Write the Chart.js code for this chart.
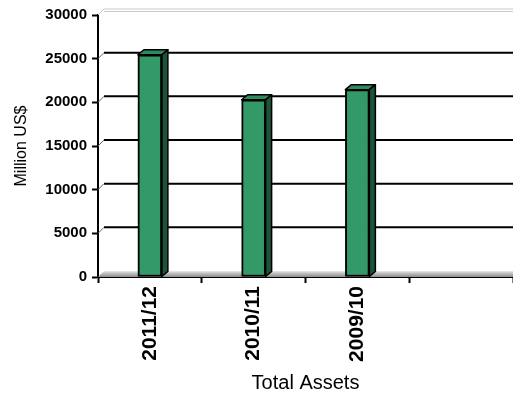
<!DOCTYPE html>
<html>
<head>
<meta charset="utf-8">
<title>Total Assets</title>
<script src="https://cdn.jsdelivr.net/npm/chart.js@4/dist/chart.umd.min.js"></script>
<style>
  html, body { margin: 0; padding: 0; background: #fff; }
  #wrap { width: 513px; height: 398px; }
</style>
</head>
<body>
<div id="wrap"><canvas id="assetsChart"></canvas></div>
<script>
// fiscal years, last slot left empty
const periods = ['2011/12', '2010/11', '2009/10', ''];
const totalAssets = [25450, 20300, 21450, null];
const yTicks = [0, 5000, 10000, 15000, 20000, 25000, 30000];

const FONT = '"Liberation Sans", Arial, sans-serif';
// depth of the walls and of the columns
const WALL_DX = 6, WALL_DY = 6;
const BAR_DX = 6, BAR_DY = 5;

const walls = {
  id: 'walls',
  beforeDatasetsDraw(chart) {
    const { ctx, chartArea: a, scales: { y } } = chart;
    const base = y.getPixelForValue(0);
    ctx.save();

    // floor
    const grad = ctx.createLinearGradient(0, base - WALL_DY, 0, base);
    grad.addColorStop(0, '#ececec');
    grad.addColorStop(0.35, '#c4c4c4');
    grad.addColorStop(1, '#8c8c8c');
    ctx.fillStyle = grad;
    ctx.beginPath();
    ctx.moveTo(a.left, base);
    ctx.lineTo(a.left + WALL_DX, base - WALL_DY);
    ctx.lineTo(a.right, base - WALL_DY);
    ctx.lineTo(a.right, base);
    ctx.closePath();
    ctx.fill();

    // top edge of the back wall
    const top = y.getPixelForValue(yTicks[yTicks.length - 1]);
    ctx.strokeStyle = '#c8c8c8';
    ctx.lineWidth = 1;
    ctx.beginPath();
    ctx.moveTo(a.left, top);
    ctx.lineTo(a.left + WALL_DX, top - WALL_DY);
    ctx.lineTo(a.right, top - WALL_DY);
    ctx.moveTo(a.left + WALL_DX, top - WALL_DY + 2.5);
    ctx.lineTo(a.right, top - WALL_DY + 2.5);
    ctx.stroke();

    // gridlines on the back wall
    yTicks.slice(1, -1).forEach(v => {
      const py = y.getPixelForValue(v);
      ctx.strokeStyle = '#666';
      ctx.lineWidth = 1;
      ctx.beginPath();
      ctx.moveTo(a.left, py);
      ctx.lineTo(a.left + WALL_DX, py - WALL_DY);
      ctx.stroke();
      ctx.strokeStyle = '#000';
      ctx.lineWidth = 2;
      ctx.beginPath();
      ctx.moveTo(a.left + WALL_DX, py - WALL_DY);
      ctx.lineTo(a.right, py - WALL_DY);
      ctx.stroke();
    });
    ctx.restore();
  },
  afterDatasetsDraw(chart) {
    const { ctx } = chart;
    ctx.save();
    ctx.strokeStyle = '#000';
    ctx.lineWidth = 1.5;
    ctx.lineJoin = 'round';
    chart.getDatasetMeta(0).data.forEach((bar, i) => {
      if (totalAssets[i] == null) return;
      const { x, y, width, base } = bar.getProps(['x', 'y', 'width', 'base'], true);
      const l = x - width / 2, r = x + width / 2;
      // top face
      ctx.fillStyle = '#2e8a5b';
      ctx.beginPath();
      ctx.moveTo(l, y);
      ctx.lineTo(l + BAR_DX, y - BAR_DY);
      ctx.lineTo(r + BAR_DX, y - BAR_DY);
      ctx.lineTo(r, y);
      ctx.closePath();
      ctx.fill();
      ctx.stroke();
      // side face
      ctx.fillStyle = '#1d5438';
      ctx.beginPath();
      ctx.moveTo(r, y);
      ctx.lineTo(r + BAR_DX, y - BAR_DY);
      ctx.lineTo(r + BAR_DX, base - BAR_DY);
      ctx.lineTo(r, base);
      ctx.closePath();
      ctx.fill();
      ctx.stroke();
    });
    ctx.restore();
  }
};

new Chart(document.getElementById('assetsChart'), {
  type: 'bar',
  data: {
    labels: periods,
    datasets: [{
      data: totalAssets,
      backgroundColor: '#339966',
      borderColor: '#000',
      borderWidth: 2,
      borderSkipped: false,
      barThickness: 24
    }]
  },
  options: {
    responsive: true,
    maintainAspectRatio: false,
    animation: false,
    layout: { padding: { top: 15, right: 0, left: 0, bottom: 0 } },
    plugins: { legend: { display: false }, tooltip: { enabled: false } },
    scales: {
      x: {
        grid: { offset: true, drawOnChartArea: false, drawTicks: true, tickLength: 6, tickWidth: 2, tickColor: '#000' },
        border: { display: true, color: '#000', width: 2 },
        ticks: {
          autoSkip: false, minRotation: 90, maxRotation: 90, padding: 3,
          color: '#000', font: { family: FONT, size: 21, weight: 'bold' }
        },
        title: {
          display: true, text: 'Total Assets', color: '#000',
          font: { family: FONT, size: 20 }, padding: { top: 0, bottom: 3 }
        },
        afterFit: s => { s.height = 121; }
      },
      y: {
        min: 0,
        max: yTicks[yTicks.length - 1],
        afterBuildTicks: s => { s.ticks = yTicks.map(v => ({ value: v })); },
        grid: { drawOnChartArea: false, drawTicks: true, tickLength: 6, tickWidth: 2, tickColor: '#000' },
        border: { display: true, color: '#000', width: 2 },
        ticks: {
          padding: 5, color: '#000',
          font: { family: FONT, size: 15, weight: 'bold' },
          callback: v => String(v)
        },
        title: {
          display: true, text: 'Million US$', color: '#000',
          font: { family: FONT, size: 16 }, padding: { top: 12, bottom: 0 }
        },
        afterFit: s => { s.width = 98; }
      }
    }
  },
  plugins: [walls]
});
</script>
</body>
</html>
